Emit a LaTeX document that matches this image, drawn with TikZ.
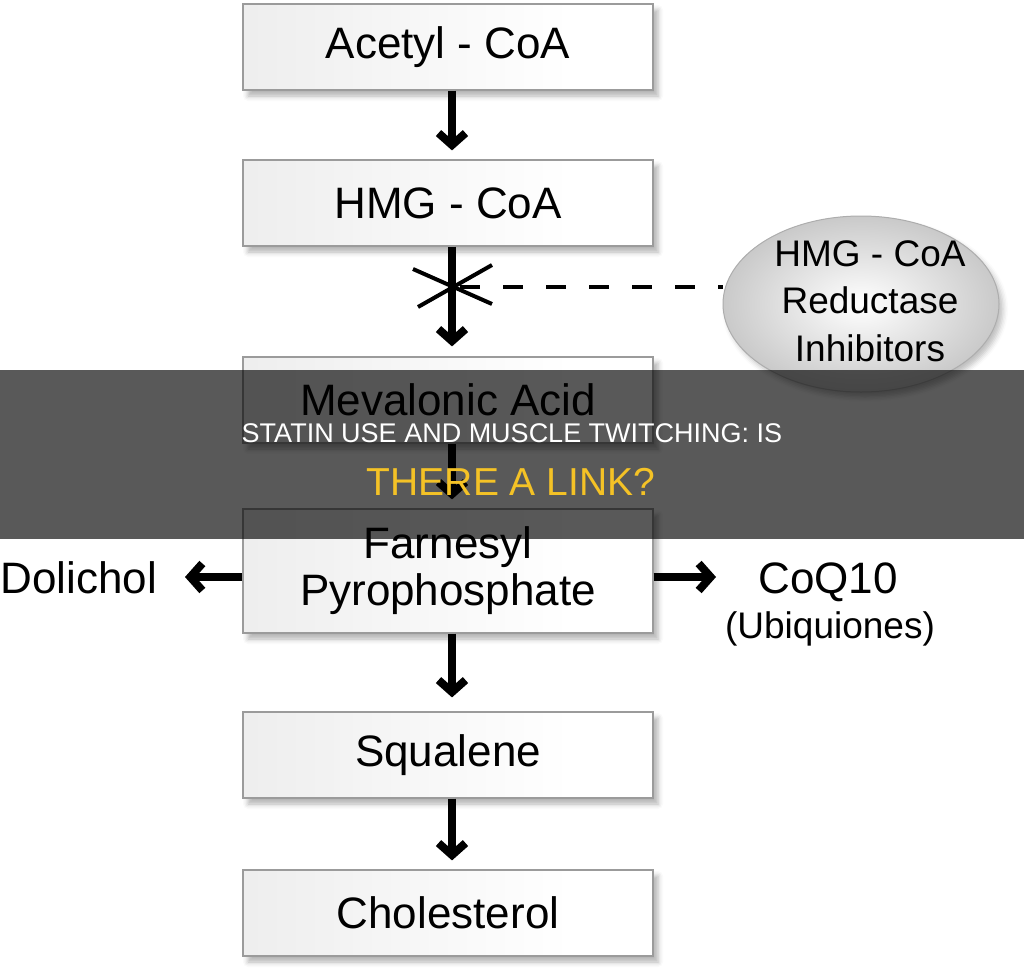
\documentclass[tikz,border=0pt]{standalone}
\usepackage{fontspec}
\setmainfont{Liberation Sans}
\usetikzlibrary{arrows.meta,shapes.geometric,shadows.blur}
\pgfdeclarehorizontalshading{boxsh}{100bp}{color(0bp)=(black!11); color(65bp)=(white); color(85bp)=(white); color(100bp)=(black!9)}
\definecolor{bordergray}{RGB}{155,155,155}
\definecolor{titleyellow}{RGB}{244,194,38}
\begin{document}
\begin{tikzpicture}[x=1pt,y=-1pt,
  stepbox/.style={draw=bordergray, line width=1.2pt, shade, shading=boxsh,
    minimum width=410pt, minimum height=86pt, inner sep=0pt,
    font=\fontsize{44}{47}\selectfont, align=center,
    blur shadow={shadow xshift=5pt, shadow yshift=-6pt, shadow blur radius=5pt, shadow opacity=30}},
  arr/.style={line width=8pt, -{Straight Barb[length=12pt,width=27pt]}},
  lbl/.style={inner sep=0pt, font=\fontsize{44}{47}\selectfont},
]
\useasboundingbox (0,0) rectangle (1024,977);

% main chain
\node[stepbox] (b1) at (448,47) {Acetyl - CoA};
\node[stepbox] (b2) at (448,203) {HMG - CoA};
\node[stepbox] (b3) at (448,400) {Mevalonic Acid};
\node[stepbox, minimum height=124pt] (b4) at (448,571) {Farnesyl\\Pyrophosphate};
\node[stepbox] (b5) at (448,755) {Squalene};
\node[stepbox] (b6) at (448,913) {Cholesterol};

% inhibitor ellipse
\node[ellipse, draw=black!32, line width=1pt, shade, inner color=white, outer color=black!21,
  minimum width=276pt, minimum height=176pt, inner sep=0pt,
  blur shadow={shadow xshift=4pt, shadow yshift=-5pt, shadow blur radius=5pt, shadow opacity=25}]
  (inh) at (861,304) {};
\node[align=center, inner sep=0pt, font=\fontsize{37}{47.5}\selectfont] (inhtxt) at (870,301)
  {HMG - CoA\\Reductase\\Inhibitors};

% vertical arrows
\draw[arr, shorten >=9pt] ([xshift=4pt]b1.south) -- ([xshift=4pt]b2.north);
\draw[arr, shorten >=10pt] ([xshift=4pt]b2.south) -- ([xshift=4pt]b3.north);
\draw[arr, shorten >=9pt] ([xshift=4pt]b3.south) -- ([xshift=4pt]b4.north);
\draw[arr, shorten >=14pt] ([xshift=4pt]b4.south) -- ([xshift=4pt]b5.north);
\draw[arr, shorten >=9pt] ([xshift=4pt]b5.south) -- ([xshift=4pt]b6.north);

% block mark and dashed inhibition line
\coordinate (xc) at (452,287);
\draw[line width=4pt] ([shift={(-39,-18)}]xc) -- ([shift={(40,17)}]xc);
\draw[line width=4pt] ([shift={(-34,20)}]xc) -- ([shift={(40,-22)}]xc);
\coordinate (ds) at (460,287);
\draw[line width=4pt, dash pattern=on 20pt off 23pt] (ds) -- (ds -| inh.west);

% side products
\coordinate (lt) at (185,577);
\coordinate (rt) at (716,577);
\draw[arr] (lt -| b4.west) -- (lt);
\draw[arr] (rt -| b4.east) -- (rt);
\node[lbl, anchor=base] (dol) at (79,593) {Dolichol};
\node[lbl, anchor=base] (coq) at (828,593) {CoQ10};
\node[lbl, anchor=base, font=\fontsize{37}{40}\selectfont] (ubi) at (830,638) {(Ubiquiones)};

% title banner
\fill[black, opacity=0.65] (0,370) rectangle (1024,539);
\node[anchor=base, text=white, font=\fontsize{27}{30}\selectfont, inner sep=0pt] (t1) at (512,442) {STATIN USE AND MUSCLE TWITCHING: IS};
\node[anchor=base, text=titleyellow, font=\fontsize{39}{42}\selectfont, inner sep=0pt] (t2) at (511,495) {THERE A LINK?};
\end{tikzpicture}
\end{document}
